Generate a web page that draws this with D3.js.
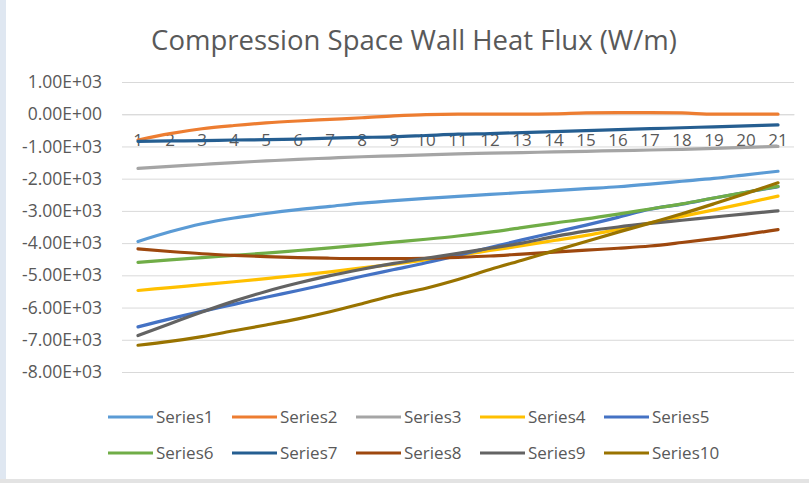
<!DOCTYPE html>
<html>
<head>
<meta charset="utf-8">
<script src="https://cdn.jsdelivr.net/npm/d3@7"></script>
<style>
  html, body { margin: 0; padding: 0; background: #ffffff; }
  svg { display: block; font-family: "Open Sans", "Noto Sans", sans-serif; }
</style>
</head>
<body>
<svg id="chart" width="809" height="483"></svg>
<script>
// Wall heat flux per segment, 21 positions along the compression space
const categories = d3.range(1, 22);
const seriesNames = ["Series1", "Series2", "Series3", "Series4", "Series5",
                     "Series6", "Series7", "Series8", "Series9", "Series10"];
const series1 = [-3950, -3650, -3400, -3220, -3080, -2960, -2860, -2760, -2680, -2610, -2550,
                 -2490, -2430, -2370, -2310, -2250, -2170, -2080, -1990, -1880, -1770];
const series2 = [-800, -600, -450, -350, -270, -210, -160, -110, -50, -10, 0,
                 0, 0, 10, 40, 50, 50, 40, 0, 0, 0];
const series3 = [-1680, -1620, -1560, -1500, -1450, -1400, -1360, -1320, -1290, -1260, -1230,
                 -1210, -1190, -1170, -1150, -1130, -1110, -1090, -1060, -1030, -1000];
const series4 = [-5470, -5380, -5290, -5200, -5100, -5000, -4890, -4770, -4650, -4520, -4380,
                 -4230, -4080, -3920, -3760, -3570, -3370, -3170, -2970, -2760, -2540];
const series5 = [-6600, -6350, -6120, -5900, -5680, -5470, -5250, -5030, -4820, -4610, -4380,
                 -4140, -3900, -3670, -3440, -3200, -2950, -2790, -2600, -2420, -2250];
const series6 = [-4600, -4520, -4450, -4380, -4310, -4230, -4150, -4060, -3970, -3880, -3780,
                 -3660, -3520, -3380, -3250, -3100, -2940, -2780, -2600, -2420, -2240];
const series7 = [-840, -830, -820, -800, -790, -770, -740, -720, -700, -660, -620,
                 -600, -570, -540, -510, -480, -450, -420, -390, -360, -330];
const series8 = [-4180, -4260, -4330, -4380, -4420, -4450, -4470, -4480, -4480, -4470, -4440,
                 -4400, -4340, -4280, -4220, -4160, -4090, -3980, -3860, -3730, -3580];
const series9 = [-6870, -6500, -6140, -5800, -5500, -5240, -5010, -4810, -4630, -4470, -4320,
                 -4160, -4000, -3800, -3630, -3500, -3390, -3290, -3190, -3090, -3000];
const series10 = [-7170, -7050, -6900, -6720, -6540, -6350, -6130, -5880, -5620, -5400, -5130,
                  -4820, -4530, -4240, -3950, -3660, -3380, -3090, -2780, -2460, -2130];
const yTicks = [1000, 0, -1000, -2000, -3000, -4000, -5000, -6000, -7000, -8000];

const allSeries = [series1, series2, series3, series4, series5,
                   series6, series7, series8, series9, series10];
const colors = ["#5B9BD5", "#ED7D31", "#A5A5A5", "#FFC000", "#4472C4",
                "#70AD47", "#255E91", "#9E480E", "#636363", "#997300"];

const svg = d3.select("#chart");
const textColor = "#595959";

// window frame: pale strip on the left, grey rule at the bottom
svg.append("rect").attr("x", 0).attr("y", 0).attr("width", 6).attr("height", 483).attr("fill", "#dfe7f1");
svg.append("rect").attr("x", 0).attr("y", 479).attr("width", 809).attr("height", 4).attr("fill", "#e3e3e3");

const x = d3.scaleBand().domain(categories).range([122, 794]);
const cx = c => x(c) + x.bandwidth() / 2;
const y = d3.scaleLinear().domain([-8000, 1000]).range([372, 82]);

// title
svg.append("text")
  .attr("x", 414).attr("y", 50)
  .attr("text-anchor", "middle")
  .attr("font-size", 27.5)
  .attr("fill", textColor)
  .text("Compression Space Wall Heat Flux (W/m)");

// value axis with gridlines
function sci(v) {
  if (v === 0) return "0.00E+00";
  const e = Math.floor(Math.log10(Math.abs(v)));
  const m = (v / Math.pow(10, e)).toFixed(2);
  return m + "E" + (e >= 0 ? "+" : "-") + String(Math.abs(e)).padStart(2, "0");
}
const yAxis = d3.axisLeft(y).tickValues(yTicks).tickFormat(sci)
  .tickSize(-(794 - 122)).tickPadding(20);
const gy = svg.append("g").attr("transform", "translate(122,0)").call(yAxis);
gy.select(".domain").remove();
gy.selectAll(".tick line").attr("stroke", "#d9d9d9").attr("stroke-width", 1);
gy.selectAll(".tick text").attr("fill", textColor).attr("font-size", 17.5)
  .attr("font-family", "'Open Sans', sans-serif");

// category axis sits at zero
const xAxis = d3.axisBottom(x).tickSize(0).tickPadding(20);
const gx = svg.append("g").attr("transform", `translate(0,${y(0)})`).call(xAxis);
gx.select(".domain").attr("stroke", "#d9d9d9");
gx.selectAll(".tick text").attr("fill", textColor).attr("font-size", 17)
  .attr("font-family", "'Open Sans', sans-serif");

// series lines
const line = d3.line()
  .x((d, i) => cx(categories[i]))
  .y(d => y(d))
  .curve(d3.curveMonotoneX);

svg.append("g").selectAll("path")
  .data(allSeries)
  .join("path")
  .attr("d", line)
  .attr("fill", "none")
  .attr("stroke", (d, i) => colors[i])
  .attr("stroke-width", 3.2)
  .attr("stroke-linecap", "round")
  .attr("stroke-linejoin", "round");

// legend: two rows of five
const legend = svg.append("g");
const items = legend.selectAll("g")
  .data(seriesNames)
  .join("g")
  .attr("transform", (d, i) => `translate(${108 + (i % 5) * 124},${i < 5 ? 417 : 453})`);
items.append("line")
  .attr("x1", 0).attr("x2", 45).attr("y1", 0).attr("y2", 0)
  .attr("stroke", (d, i) => colors[i]).attr("stroke-width", 3.2);
items.append("text")
  .attr("x", 48).attr("y", 0).attr("dy", "0.35em")
  .attr("font-size", 17).attr("fill", textColor)
  .text(d => d);
</script>
</body>
</html>
